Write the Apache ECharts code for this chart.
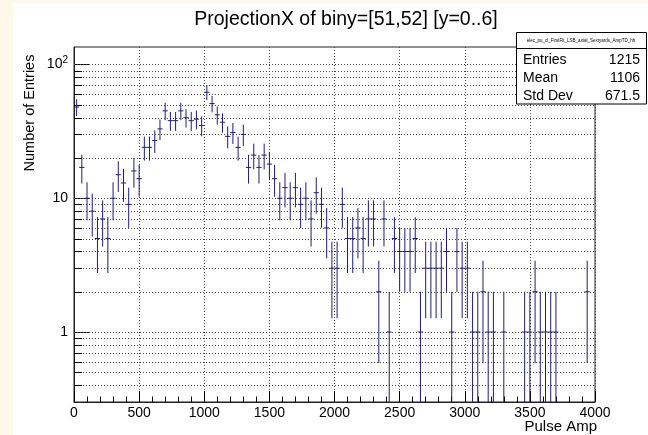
<!DOCTYPE html>
<html>
<head>
<meta charset="utf-8">
<script src="https://cdn.jsdelivr.net/npm/echarts@6/dist/echarts.min.js"></script>
<style>
  html, body { margin: 0; padding: 0; background: #ffffff; }
  #chart { width: 648px; height: 435px; }
</style>
</head>
<body>
<div id="chart"></div>
<script>
// Histogram: 100 bins of width 40 from 0 to 4000 (Pulse Amp), counts per bin
const xMin = 0;
const xMax = 4000;
const binWidth = 40;
const yMin = 0.3;
const yMax = 135;

const counts = [
  48, 17, 10, 8, 5, 7, 5, 10, 15, 13, 9, 16, 14,
  24, 24, 27, 33, 45, 38, 38, 45, 40, 38, 39, 35, 62, 51, 42, 37, 29, 31, 24, 30, 17, 21, 17,
  21, 18, 14, 10, 12, 10, 12, 9, 10, 7, 11, 9, 6,
  3, 3, 9, 5, 5, 6, 5, 7, 7, 2, 7, 1, 5, 4, 4, 4, 5, 1, 3, 3, 3, 3, 4,
  1, 4, 3, 3, 1, 1, 2, 1, 1, 0, 1, 0, 0, 0, 1, 1, 2, 1, 1, 1, 1, 0, 0, 0, 0, 0, 2, 0
];

const xTickInterval = 500;
const statsTitle = 'elec_pu_cl_FirstFit_LSB_axial_Sextyards_AmpTD_hh';
const statsLabels = ['Entries', 'Mean', 'Std Dev'];
const statsValues = ['1215', '1106', '671.5'];

// log-axis grid levels: 1..9 times each decade inside the y range
const yGridLevels = [];
for (let e = -1; e <= 2; e++) {
  for (let m = 1; m <= 9; m++) {
    const v = m * Math.pow(10, e);
    if (v > yMin * 1.001 && v < yMax) yGridLevels.push([m, v]);
  }
}

const FONT = '"Liberation Sans", Arial, Helvetica, sans-serif';
const barColor = '#1e1e78';
const gridColor = '#4a4a4a';

const binData = counts
  .map((n, i) => [xMin + binWidth * (i + 0.5), n])
  .filter(d => d[1] > 0);

const chart = echarts.init(document.getElementById('chart'), null, { renderer: 'canvas' });

const statsZ = 100;

chart.setOption({
  animation: false,
  backgroundColor: '#ffffff',
  grid: {
    left: 74, right: 53, top: 47, bottom: 33,
    show: true, borderColor: '#222', borderWidth: 1, backgroundColor: 'transparent'
  },
  xAxis: {
    type: 'value', min: xMin, max: xMax, interval: xTickInterval,
    axisLine: { show: true, lineStyle: { color: '#222', width: 1 } },
    axisTick: { show: true, inside: true, length: 11, lineStyle: { color: '#000' } },
    minorTick: { show: true, splitNumber: 5, length: 5.5, lineStyle: { color: '#000' } },
    splitLine: { show: true, lineStyle: { color: gridColor, type: [1, 2], width: 1 } },
    axisLabel: { color: '#000', fontSize: 14, fontFamily: FONT, margin: 4,
                 formatter: v => String(v) }
  },
  yAxis: {
    type: 'log', logBase: 10, min: yMin, max: yMax,
    axisLine: { show: true, lineStyle: { color: '#222', width: 1 } },
    axisTick: { show: true, inside: true, length: 15, lineStyle: { color: '#000' } },
    splitLine: { show: false },
    axisLabel: {
      color: '#000', fontSize: 14, fontFamily: FONT, margin: 6,
      showMinLabel: false, showMaxLabel: false,
      formatter: v => {
        const p = Math.round(Math.log10(v));
        if (p >= 2) return '{b|10}{s|' + p + '}';
        return '{b|' + Math.round(v) + '}';
      },
      rich: {
        b: { fontSize: 14, fontFamily: FONT, color: '#000', lineHeight: 18 },
        s: { fontSize: 10, fontFamily: FONT, color: '#000', lineHeight: 10, verticalAlign: 'top' }
      }
    }
  },
  series: [
    {
      // dotted grid lines at every log level plus minor ticks on the y axis
      type: 'custom',
      z: 1,
      silent: true,
      data: yGridLevels,
      renderItem: (params, api) => {
        const m = api.value(0);
        const v = api.value(1);
        const a = api.coord([xMin, v]);
        const b = api.coord([xMax, v]);
        const y = Math.round(a[1]) + 0.5;
        const children = [{
          type: 'line',
          shape: { x1: a[0], y1: y, x2: b[0], y2: y },
          style: { stroke: gridColor, lineWidth: 1, lineDash: [1, 2] }
        }];
        if (m !== 1) {
          children.push({
            type: 'line',
            shape: { x1: a[0], y1: y, x2: a[0] + 8, y2: y },
            style: { stroke: '#000', lineWidth: 1 }
          });
        }
        return { type: 'group', children };
      }
    },
    {
      // bin contents with sqrt(N) error bars
      type: 'custom',
      z: 5,
      data: binData,
      renderItem: (params, api) => {
        const xc = api.value(0);
        const n = api.value(1);
        const err = Math.sqrt(n);
        const lo = Math.max(n - err, yMin);
        const hi = Math.min(n + err, yMax);
        const pl = api.coord([xc - binWidth / 2, n]);
        const pr = api.coord([xc + binWidth / 2, n]);
        const pt = api.coord([xc, hi]);
        const pb = api.coord([xc, lo]);
        return {
          type: 'group',
          children: [
            { type: 'line', shape: { x1: pl[0], y1: pl[1], x2: pr[0], y2: pr[1] },
              style: { stroke: barColor, lineWidth: 1 } },
            { type: 'line', shape: { x1: pt[0], y1: pt[1], x2: pb[0], y2: pb[1] },
              style: { stroke: barColor, lineWidth: 1 } }
          ]
        };
      }
    }
  ],
  graphic: {
    elements: [
      { type: 'rect', shape: { x: 0, y: 0, width: 13, height: 435 }, style: { fill: '#fdf8ea' }, z: 0 },
      { type: 'rect', shape: { x: 0, y: 0, width: 648, height: 3 }, style: { fill: '#fdf8ea' }, z: 0 },
      {
        type: 'text', x: 346, y: 20, z: 10,
        style: { text: 'ProjectionX of biny=[51,52] [y=0..6]', font: '19.5px ' + FONT,
                 fill: '#000', align: 'center', verticalAlign: 'middle' }
      },
      {
        type: 'text', x: 30, y: 113, rotation: Math.PI / 2, z: 10,
        style: { text: 'Number of Entries', font: '14.5px ' + FONT,
                 fill: '#000', align: 'center', verticalAlign: 'middle' }
      },
      {
        type: 'text', x: 597, y: 427, z: 10,
        style: { text: 'Pulse Amp', font: '15px ' + FONT,
                 fill: '#000', align: 'right', verticalAlign: 'middle' }
      },
      // statistics box
      { type: 'rect', z: statsZ, shape: { x: 516.5, y: 32.5, width: 130, height: 71.5 },
        style: { fill: '#fff', stroke: '#000', lineWidth: 1 } },
      { type: 'line', z: statsZ + 1, shape: { x1: 516.5, y1: 48.5, x2: 646.5, y2: 48.5 },
        style: { stroke: '#000', lineWidth: 1 } },
      { type: 'text', z: statsZ + 1, x: 581, y: 40.5,
        style: { text: statsTitle, font: '4.5px ' + FONT, fill: '#000',
                 align: 'center', verticalAlign: 'middle' } },
      ...statsLabels.map((t, i) => ({
        type: 'text', z: statsZ + 1, x: 523, y: 60.5 + i * 18,
        style: { text: t, font: '14px ' + FONT, fill: '#000', align: 'left', verticalAlign: 'middle' }
      })),
      ...statsValues.map((t, i) => ({
        type: 'text', z: statsZ + 1, x: 640, y: 60.5 + i * 18,
        style: { text: t, font: '14px ' + FONT, fill: '#000', align: 'right', verticalAlign: 'middle' }
      }))
    ]
  }
});
</script>
</body>
</html>
